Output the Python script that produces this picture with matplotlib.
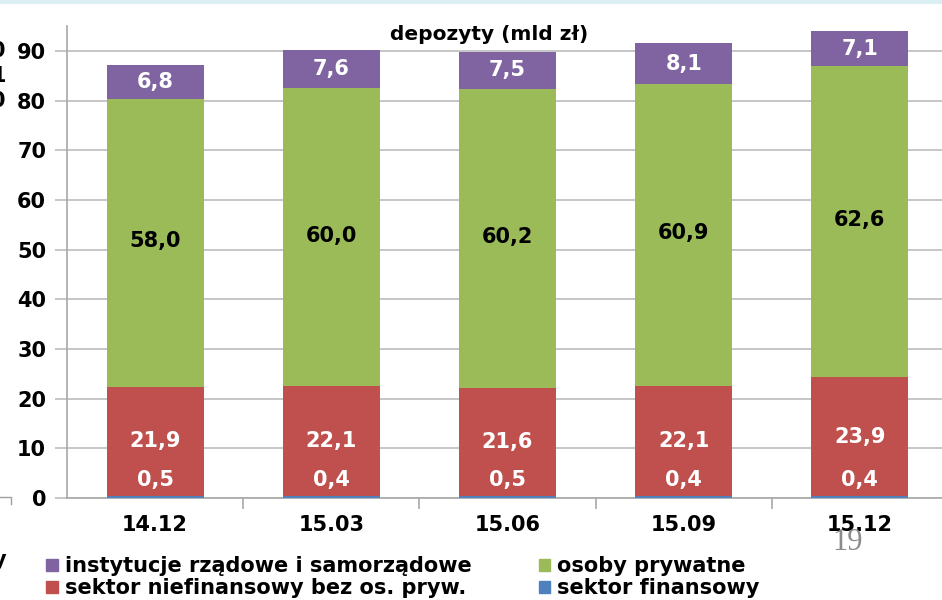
import numpy as np
import matplotlib.pyplot as plt
from matplotlib.lines import Line2D

# data
categories = ['14.12', '15.03', '15.06', '15.09', '15.12']
finansowy = [0.5, 0.4, 0.5, 0.4, 0.4]
niefinansowy = [21.9, 22.1, 21.6, 22.1, 23.9]
prywatne = [58.0, 60.0, 60.2, 60.9, 62.6]
instytucje = [6.8, 7.6, 7.5, 8.1, 7.1]

c_blue = '#4F81BD'
c_red = '#C0504D'
c_green = '#9BBB59'
c_purple = '#8064A2'

plt.rcParams['font.family'] = 'DejaVu Sans'
plt.rcParams['font.weight'] = 'bold'

fig = plt.figure(figsize=(9.42, 6), dpi=100)
ax = fig.add_axes([67 / 942, 102 / 600, 881 / 942, 472 / 600])

x = np.arange(len(categories))
w = 0.55
b1 = np.array(finansowy)
b2 = b1 + np.array(niefinansowy)
b3 = b2 + np.array(prywatne)

ax.bar(x, finansowy, w, color=c_blue, zorder=3)
ax.bar(x, niefinansowy, w, bottom=b1, color=c_red, zorder=3)
ax.bar(x, prywatne, w, bottom=b2, color=c_green, zorder=3)
ax.bar(x, instytucje, w, bottom=b3, color=c_purple, zorder=3)

fs = 15
for i in range(len(x)):
    ax.text(x[i], b1[i] + 3.2, f'{finansowy[i]:.1f}'.replace('.', ','), ha='center', va='center',
            color='white', fontsize=fs, fontweight='bold', zorder=4)
    ax.text(x[i], b1[i] + niefinansowy[i] / 2, f'{niefinansowy[i]:.1f}'.replace('.', ','), ha='center',
            va='center', color='white', fontsize=fs, fontweight='bold', zorder=4)
    ax.text(x[i], b2[i] + prywatne[i] / 2 + 0.3, f'{prywatne[i]:.1f}'.replace('.', ','), ha='center',
            va='center', color='black', fontsize=fs, fontweight='bold', zorder=4)
    ax.text(x[i], b3[i] + instytucje[i] / 2, f'{instytucje[i]:.1f}'.replace('.', ','), ha='center',
            va='center', color='white', fontsize=fs, fontweight='bold', zorder=4)

ax.set_xlim(-0.5, len(x) - 0.5)
ax.set_ylim(0, 95)
ax.set_yticks(np.arange(0, 91, 10))
ax.yaxis.grid(True, color='#bcbcbc', linewidth=1.2, zorder=0)
ax.set_xticks(x)
ax.set_xticklabels(categories)
ax.set_xticks(np.arange(0.5, len(x) - 0.5, 1), minor=True)
ax.tick_params(axis='x', which='major', length=0, pad=12, labelsize=fs)
ax.tick_params(axis='x', which='minor', length=8, color='#a8a8a8', width=1.2)
ax.tick_params(axis='y', length=9, color='#bcbcbc', width=1.2, labelsize=fs, pad=6)
for lab in ax.get_xticklabels() + ax.get_yticklabels():
    lab.set_fontweight('bold')
for s in ['top', 'right']:
    ax.spines[s].set_visible(False)
for s in ['left', 'bottom']:
    ax.spines[s].set_color('#a8a8a8')
    ax.spines[s].set_linewidth(1.2)

fig.text(489 / 942, 1 - 35 / 600, 'depozyty (mld zł)', ha='center', va='center',
         fontsize=14.5, fontweight='bold')

# legend
handles = [plt.Rectangle((0, 0), 1, 1, color=c) for c in [c_purple, c_red, c_green, c_blue]]
labels = ['instytucje rządowe i samorządowe', 'sektor niefinansowy bez os. pryw.',
          'osoby prywatne', 'sektor finansowy']
fig.legend(handles, labels, ncol=2, loc='upper left', bbox_to_anchor=(38 / 942, 1 - 548 / 600),
           frameon=False, fontsize=fs, handlelength=0.55, handleheight=0.55, handletextpad=0.35,
           columnspacing=3.2, labelspacing=0.1, borderaxespad=0, prop={'weight': 'bold', 'size': fs})

# slide remnants
fig.text(848 / 942, 1 - 543 / 600, '19', ha='center', va='center', fontsize=22,
         family='Liberation Serif', fontweight='normal', color='#8c8c8c')
fig.add_artist(Line2D([0, 1], [1 - 1.5 / 600, 1 - 1.5 / 600], color='#dbeef4', linewidth=3))
for yy, t in [(51, '0'), (76, '1'), (101, '0'), (560, 'y')]:
    fig.text(6 / 942, 1 - yy / 600, t, ha='right', va='center', fontsize=fs, fontweight='bold')
fig.add_artist(Line2D([0, 11 / 942, 11 / 942], [1 - 497 / 600, 1 - 497 / 600, 1 - 504 / 600],
                      color='#a0a0a0', linewidth=1))

fig.savefig('out.png', dpi=100)
